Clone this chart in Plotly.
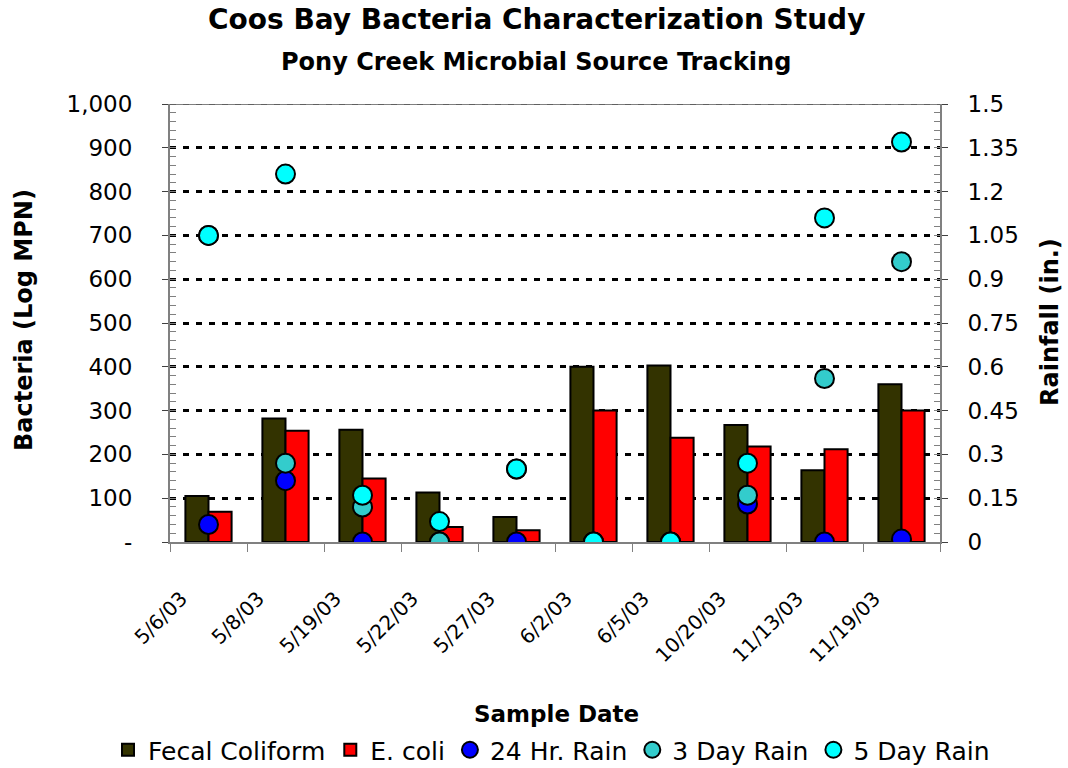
import plotly.graph_objects as go

dates = ["5/6/03", "5/8/03", "5/19/03", "5/22/03", "5/27/03", "6/2/03", "6/5/03",
         "10/20/03", "11/13/03", "11/19/03"]
fecal = [105, 282, 256, 113, 57, 400, 403, 267, 164, 360]
ecoli = [69, 254, 145, 34, 27, 300, 238, 218, 212, 300]
rain_24hr = [0.06, 0.21, 0.0, 0.0, 0.0, 0.0, 0.0, 0.13, 0.0, 0.01]
rain_3day = [1.05, 0.27, 0.12, 0.0, 0.25, 0.0, 0.0, 0.16, 0.56, 0.96]
rain_5day = [1.05, 1.26, 0.16, 0.07, 0.25, 0.0, 0.0, 0.27, 1.11, 1.37]

left_ticks = [0, 100, 200, 300, 400, 500, 600, 700, 800, 900, 1000]
left_labels = ["-", "100", "200", "300", "400", "500", "600", "700", "800", "900", "1,000"]
right_ticks = [0, 0.15, 0.3, 0.45, 0.6, 0.75, 0.9, 1.05, 1.2, 1.35, 1.5]
right_labels = ["0", "0.15", "0.3", "0.45", "0.6", "0.75", "0.9", "1.05", "1.2", "1.35", "1.5"]

FONT = "DejaVu Sans"
W, H = 1068, 768
ML, MR, MT, MB = 170, 128, 104, 226
PW, PH = W - ML - MR, H - MT - MB

def py(ypx):
    return (H - MB - ypx) / PH

def px(xpx):
    return (xpx - ML) / PW

fig = go.Figure()
fig.add_trace(go.Bar(x=dates, y=fecal, name="Fecal Coliform",
                     marker=dict(color="#333300", line=dict(color="black", width=2))))
fig.add_trace(go.Bar(x=dates, y=ecoli, name="E. coli",
                     marker=dict(color="#FF0000", line=dict(color="black", width=2))))
for name, vals, col in [("24 Hr. Rain", rain_24hr, "#0000FF"),
                        ("3 Day Rain", rain_3day, "#33CCCC"),
                        ("5 Day Rain", rain_5day, "#00FFFF")]:
    fig.add_trace(go.Scatter(x=dates, y=vals, name=name, mode="markers", yaxis="y2",
                             marker=dict(color=col, size=19, line=dict(color="black", width=2))))

fig.update_layout(
    width=W, height=H,
    margin=dict(l=ML, r=MR, t=MT, b=MB, autoexpand=False),
    paper_bgcolor="white", plot_bgcolor="white",
    font=dict(family=FONT, color="black", size=20),
    barmode="group", bargap=0.4, bargroupgap=0,
    showlegend=True,
    legend=dict(orientation="h", x=px(108), xanchor="left", y=py(750), yanchor="middle",
                font=dict(size=25), itemwidth=30, tracegroupgap=0),
    xaxis=dict(type="category", range=[-0.5, len(dates) - 0.5],
               showline=True, linecolor="#808080", linewidth=2,
               ticks="outside", tickson="boundaries", ticklen=8, tickcolor="#808080",
               tickangle=-45, tickfont=dict(size=20),
               ticklabelstandoff=35, ticklabelshift=-27, automargin=False,
               showgrid=False),
    yaxis=dict(range=[0, 1000], tickvals=left_ticks, ticktext=left_labels,
               showline=True, linecolor="#808080", linewidth=2,
               ticks="outside", ticklen=6, tickcolor="#404040", tickfont=dict(size=23),
               ticklabelstandoff=25, automargin=False,
               minor=dict(dtick=20, ticks="inside", ticklen=6, tickcolor="#808080", showgrid=False),
               showgrid=True, gridcolor="black", gridwidth=3, griddash="6px,7px",
               zeroline=False),
    yaxis2=dict(range=[0, 1.5], tickvals=right_ticks, ticktext=right_labels,
                overlaying="y", side="right",
                showline=True, linecolor="#808080", linewidth=2,
                ticks="outside", ticklen=6, tickcolor="#404040", tickfont=dict(size=23),
                ticklabelstandoff=15, automargin=False,
                minor=dict(dtick=0.03, ticks="inside", ticklen=6, tickcolor="#808080", showgrid=False),
                showgrid=False, zeroline=False),
    annotations=[
        dict(text="<b>Coos Bay Bacteria Characterization Study</b>", x=px(536), y=py(20),
             xref="paper", yref="paper", xanchor="center", yanchor="middle",
             showarrow=False, font=dict(size=28)),
        dict(text="<b>Pony Creek Microbial Source Tracking</b>", x=px(536), y=py(62),
             xref="paper", yref="paper", xanchor="center", yanchor="middle",
             showarrow=False, font=dict(size=24)),
        dict(text="<b>Sample Date</b>", x=px(556), y=py(714),
             xref="paper", yref="paper", xanchor="center", yanchor="middle",
             showarrow=False, font=dict(size=23)),
        dict(text="<b>Bacteria (Log MPN)</b>", x=px(24), y=py(320), textangle=-90,
             xref="paper", yref="paper", xanchor="center", yanchor="middle",
             showarrow=False, font=dict(size=24)),
        dict(text="<b>Rainfall (in.)</b>", x=px(1050), y=py(322), textangle=-90,
             xref="paper", yref="paper", xanchor="center", yanchor="middle",
             showarrow=False, font=dict(size=24)),
    ],
)

fig.add_shape(type="line", xref="paper", yref="y", x0=0, x1=1, y0=1000, y1=1000,
              line=dict(color="#808080", width=2), layer="below")
fig.add_shape(type="line", xref="paper", yref="y", x0=0, x1=1, y0=1000, y1=1000,
              line=dict(color="#606060", width=2, dash="6px,7px"), layer="above")

fig.write_html("out.html", config={"displayModeBar": False},
               post_script="document.body.style.margin='0';document.body.style.overflow='hidden';")
